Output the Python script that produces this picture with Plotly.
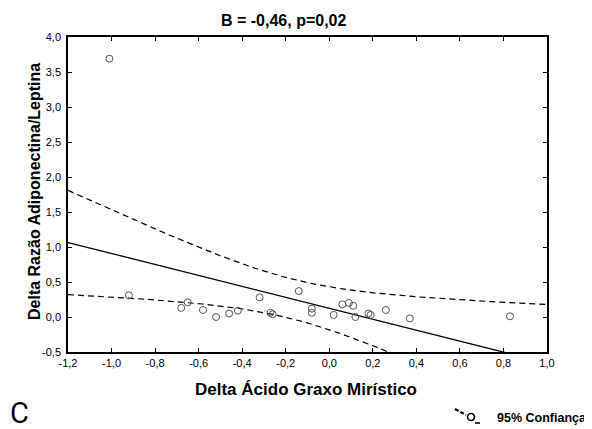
import numpy as np
import plotly.graph_objects as go

# Data
x_vals = [-1.01, -0.92, -0.68, -0.65, -0.58, -0.52, -0.46, -0.42, -0.32, -0.27, -0.26,
          -0.14, -0.08, -0.08, 0.02, 0.06, 0.09, 0.11, 0.12, 0.18, 0.19, 0.26, 0.37, 0.83]
y_vals = [3.69, 0.31, 0.13, 0.21, 0.10, 0.00, 0.05, 0.09, 0.28, 0.06, 0.04,
          0.37, 0.12, 0.06, 0.03, 0.18, 0.20, 0.16, 0.00, 0.05, 0.03, 0.10, -0.02, 0.01]

x_ticks = [-1.2, -1.0, -0.8, -0.6, -0.4, -0.2, 0.0, 0.2, 0.4, 0.6, 0.8, 1.0]
x_ticklabels = ["-1,2", "-1,0", "-0,8", "-0,6", "-0,4", "-0,2", "0,0", "0,2", "0,4", "0,6", "0,8", "1,0"]
y_ticks = [-0.5, 0.0, 0.5, 1.0, 1.5, 2.0, 2.5, 3.0, 3.5, 4.0]
y_ticklabels = ["-0,5", "0,0", "0,5", "1,0", "1,5", "2,0", "2,5", "3,0", "3,5", "4,0"]

title_text = "B = -0,46, p=0,02"
x_title = "Delta Ácido Graxo Mirístico"
y_title = "Delta Razão Adiponectina/Leptina"
legend_text = "95% Confiança"
panel_label = "C"

# Linear regression and 95% confidence band computed from the data
x = np.array(x_vals)
y = np.array(y_vals)
n = len(x)
slope, intercept = np.polyfit(x, y, 1)
resid = y - (intercept + slope * x)
s = np.sqrt(np.sum(resid ** 2) / (n - 2))
sxx = np.sum((x - x.mean()) ** 2)
t_crit = 2.074  # t(0.975, df=22)
xg = np.linspace(-1.2, 1.0, 200)
yg = intercept + slope * xg
se = s * np.sqrt(1.0 / n + (xg - x.mean()) ** 2 / sxx)
upper = yg + t_crit * se
lower = yg - t_crit * se

fig = go.Figure()
fig.add_trace(go.Scatter(x=xg, y=upper, mode="lines",
                         line=dict(color="black", width=1.2, dash="6px,4px"), showlegend=False))
fig.add_trace(go.Scatter(x=xg, y=lower, mode="lines",
                         line=dict(color="black", width=1.2, dash="6px,4px"), showlegend=False))
fig.add_trace(go.Scatter(x=xg, y=yg, mode="lines",
                         line=dict(color="black", width=1.3), showlegend=False))
fig.add_trace(go.Scatter(x=x_vals, y=y_vals, mode="markers",
                         marker=dict(symbol="circle-open", size=7, color="#555",
                                     line=dict(width=1, color="#555")),
                         showlegend=False, cliponaxis=False))

OFF = 8  # page body offset
W, H = 592 - OFF, 429 - OFF
ml, mt = 68 - OFF, 37 - OFF
pw, ph = 479, 315
mr, mb = W - ml - pw, H - mt - ph

axis_common = dict(showline=True, linecolor="black", linewidth=1.5, mirror="ticks",
                   ticks="inside", ticklen=4, tickcolor="black", showgrid=False, zeroline=False,
                   tickfont=dict(family="Liberation Sans, Arial", size=11, color="black"))

fig.update_xaxes(range=[-1.2, 1.0], tickvals=x_ticks, ticktext=x_ticklabels, **axis_common)
fig.update_yaxes(range=[-0.5, 4.0], tickvals=y_ticks, ticktext=y_ticklabels,
                 ticklabelstandoff=3, **axis_common)

def px(xp):
    return (xp - OFF - ml) / pw

def py(yp):
    return (mt + ph - (yp - OFF)) / ph

def ann(text, xr, yr, size, family="Liberation Sans, Arial", xanchor="center", angle=0):
    return dict(text=text, x=px(xr), y=py(yr), xref="paper", yref="paper",
                xanchor=xanchor, yanchor="middle", showarrow=False, textangle=angle,
                font=dict(family=family, size=size, color="black"))

annotations = [
    ann("<b>" + title_text + "</b>", 284, 21, 16),
    ann("<b>" + x_title + "</b>", 306, 389, 17),
    ann("<b>" + y_title + "</b>", 34, 192, 16, angle=-90),
    ann(panel_label, 19, 413, 29, family="Roboto, Liberation Sans"),
    ann("<b>" + legend_text + "</b>", 495, 418, 12.5, xanchor="left"),
]

shapes = [
    dict(type="line", xref="paper", yref="paper", x0=px(455), y0=py(409), x1=px(466), y1=py(415),
         line=dict(color="black", width=2.2, dash="4px,2px")),
    dict(type="circle", xref="paper", yref="paper", x0=px(467.5), y0=py(413.5), x1=px(474.5), y1=py(420.5),
         line=dict(color="black", width=1.6)),
    dict(type="line", xref="paper", yref="paper", x0=px(475), y0=py(423), x1=px(480), y1=py(423),
         line=dict(color="black", width=1.6)),
]

fig.update_layout(width=W, height=H, margin=dict(l=ml, r=mr, t=mt, b=mb),
                  plot_bgcolor="white", paper_bgcolor="white",
                  annotations=annotations, shapes=shapes)

fig.write_html("out.html")
